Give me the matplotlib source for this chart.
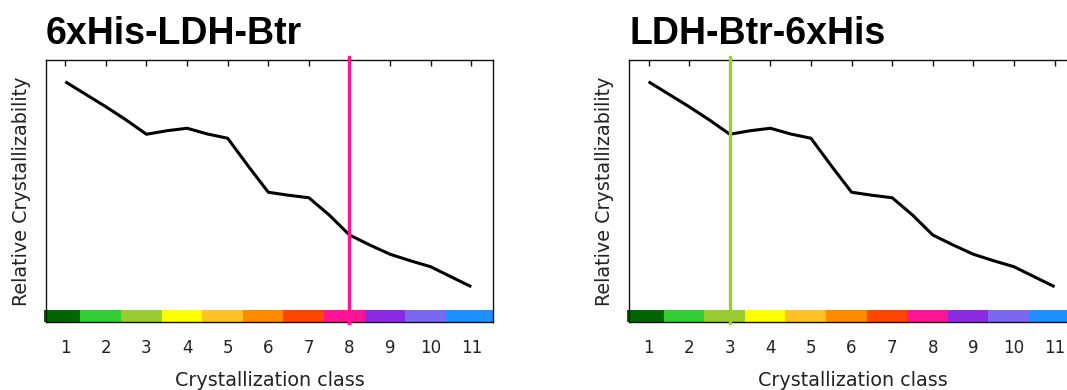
import matplotlib
matplotlib.use("Agg")
import matplotlib.pyplot as plt
from matplotlib.patches import Rectangle

# ---- data ----
titles = ["6xHis-LDH-Btr", "LDH-Btr-6xHis"]
classes = list(range(1, 12))
curve_x = [1, 1.5, 2, 2.5, 3, 3.5, 4, 4.5, 5, 5.5, 6, 6.5, 7, 7.5, 8, 8.5, 9, 9.5, 10, 10.5, 11]
curve_y = [0.913, 0.863, 0.813, 0.760, 0.703, 0.717, 0.727, 0.704, 0.687, 0.577, 0.471,
           0.459, 0.449, 0.380, 0.300, 0.260, 0.223, 0.197, 0.173, 0.133, 0.093]
predicted_class = [8, 3]
class_colors = ["#006400", "#32CD32", "#9ACD32", "#FFFF00", "#FFC125", "#FF8C00",
                "#FF4500", "#FF1493", "#8A2BE2", "#7B68EE", "#1E90FF"]

W, H = 1067, 390
fig = plt.figure(figsize=(W / 100, H / 100), dpi=100)

axes_left_px = [46, 629.3]
axes_w_px = 447
bottom_px, top_px = 322, 60

text_color = "#222222"

for i in range(2):
    l = axes_left_px[i]
    ax = fig.add_axes([l / W, 1 - bottom_px / H, axes_w_px / W, (bottom_px - top_px) / H])
    ax.set_xlim(0.525, 11.535)
    ax.set_ylim(-0.048, 1.0)

    # colour bar of classes
    edges = [0.475] + [k + 0.37 for k in classes[:-1]] + [11.56]
    for k, c in enumerate(class_colors):
        ax.add_patch(Rectangle((edges[k], -0.048), edges[k + 1] - edges[k], 0.048,
                               facecolor=c, edgecolor="none", clip_on=False, zorder=2))

    ax.plot(curve_x, curve_y, color="black", lw=2.2, zorder=3, solid_capstyle="butt")

    pc = predicted_class[i]
    ax.plot([pc, pc], [-0.05, 1.012], color=class_colors[pc - 1], lw=2.4,
            clip_on=False, zorder=4)

    for s in ax.spines.values():
        s.set_color("#111111")
        s.set_linewidth(1.0)
        s.set_zorder(3)

    ax.set_xticks(classes)
    ax.set_xticklabels([str(c) for c in classes])
    ax.tick_params(axis="x", direction="in", length=4, width=1, top=True, bottom=False,
                   labelsize=12, labelcolor=text_color, pad=12, color="#111111")
    ax.set_yticks([])
    ax.set_xlabel("Crystallization class", fontsize=13.8, color=text_color, labelpad=10)
    ax.set_ylabel("Relative Crystallizability", fontsize=13.8, color=text_color, labelpad=11)

    fig.text(l / W, 1 - 44 / H, titles[i], fontsize=27, fontweight="bold",
             family=["Liberation Sans", "DejaVu Sans"], color="black",
             ha="left", va="baseline")

fig.savefig("out.png", dpi=100)
